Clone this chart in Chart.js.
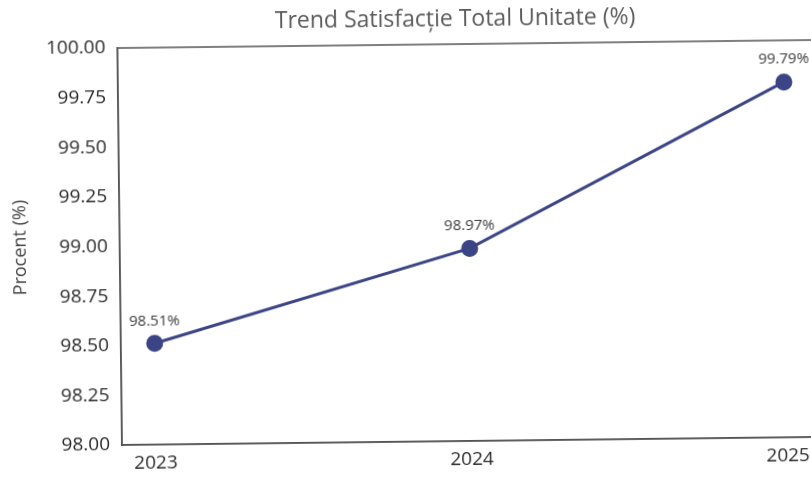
<!DOCTYPE html>
<html>
<head>
<meta charset="utf-8">
<script src="https://cdn.jsdelivr.net/npm/chart.js"></script>
<style>
    html, body { margin: 0; padding: 0; background: #fff; overflow: hidden; }
    #wrap {
        position: absolute; left: 0; top: 0;
        width: 920px; height: 477px;
        transform: rotate(-0.66deg);
        transform-origin: 122px 445px;
    }
</style>
</head>
<body>
<div id="wrap"><canvas id="trend"></canvas></div>
<script>
// Data
const years = [2023, 2024, 2025];
const satisfaction = [98.51, 98.97, 99.79];
const yTicks = [98.00, 98.25, 98.50, 98.75, 99.00, 99.25, 99.50, 99.75, 100.00];

const FONT = "'Open Sans', Lato, sans-serif";
const LINE_COLOR = '#3b4485';

// draws the value above every point + the box around the plot
const valueLabels = {
    id: 'valueLabels',
    afterDatasetsDraw(chart) {
        const ctx = chart.ctx;
        const meta = chart.getDatasetMeta(0);
        ctx.save();
        ctx.font = '15px ' + FONT;
        ctx.fillStyle = '#3a3a3a';
        ctx.textAlign = 'center';
        ctx.textBaseline = 'bottom';
        meta.data.forEach((pt, i) => {
            ctx.fillText(satisfaction[i].toFixed(2) + '%', pt.x, pt.y - 15);
        });
        ctx.restore();
    },
    beforeDatasetsDraw(chart) {
        const { ctx, chartArea } = chart;
        ctx.save();
        ctx.strokeStyle = '#555';
        ctx.lineWidth = 1.5;
        ctx.strokeRect(chartArea.left, chartArea.top,
            chartArea.right - chartArea.left, chartArea.bottom - chartArea.top);
        ctx.restore();
    }
};

function drawChart() {
    const canvas = document.getElementById('trend');

    new Chart(canvas, {
        type: 'line',
        data: {
            datasets: [{
                label: 'Satisfacție',
                data: years.map((y, i) => ({ x: y, y: satisfaction[i] })),
                borderColor: LINE_COLOR,
                backgroundColor: LINE_COLOR,
                borderWidth: 3,
                pointRadius: 7,
                pointHoverRadius: 7,
                tension: 0
            }]
        },
        options: {
            responsive: true,
            maintainAspectRatio: false,
            animation: false,
            // canvas is wider than the window, the plot runs off the right edge like the scan
            layout: { padding: 0 },
            plugins: {
                legend: { display: false },
                tooltip: { enabled: false },
                title: {
                    display: true,
                    text: 'Trend Satisfacție Total Unitate (%)',
                    color: '#5a5a5a',
                    font: { family: FONT, size: 23, weight: 'normal' },
                    padding: { top: 10, bottom: 10.4 }
                }
            },
            scales: {
                x: {
                    type: 'linear',
                    min: 2022.893,
                    max: 2025.386,
                    afterBuildTicks: (axis) => { axis.ticks = years.map(v => ({ value: v })); },
                    afterFit: (axis) => { axis.height = 32; },
                    grid: { display: false, drawTicks: true, tickLength: 6, color: '#555' },
                    border: { display: true, color: '#555', width: 1.5 },
                    ticks: {
                        color: '#2a2a2a',
                        padding: 1,
                        font: { family: FONT, size: 19 },
                        callback: (v) => String(v)
                    }
                },
                y: {
                    min: 98,
                    max: 100,
                    afterBuildTicks: (axis) => { axis.ticks = yTicks.map(v => ({ value: v })); },
                    afterFit: (axis) => { axis.width = 122; },
                    grid: { display: false, drawTicks: true, tickLength: 6, color: '#555' },
                    border: { display: true, color: '#555', width: 1.5 },
                    title: {
                        display: true,
                        text: 'Procent (%)',
                        color: '#444',
                        font: { family: FONT, size: 18 },
                        padding: { top: 12, bottom: 0 }
                    },
                    ticks: {
                        color: '#2a2a2a',
                        padding: 6,
                        font: { family: FONT, size: 19 },
                        callback: (v) => Number(v).toFixed(2)
                    }
                }
            }
        },
        plugins: [valueLabels]
    });
}

document.addEventListener('DOMContentLoaded', drawChart);
</script>
</body>
</html>
